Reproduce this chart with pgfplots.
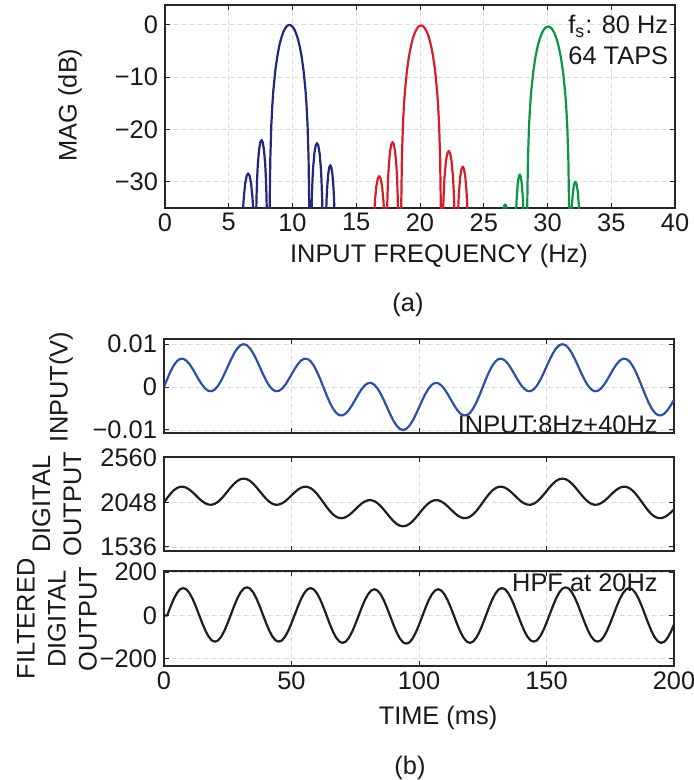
\documentclass[border=0pt]{standalone}
\usepackage{pgfplots}
\pgfplotsset{compat=1.18}
\usepackage{pgfplotstable}
\usepackage{fontspec}
\setmainfont{Liberation Sans}

\definecolor{cblue}{RGB}{35,40,125}
\definecolor{cred}{RGB}{215,30,40}
\definecolor{cgreen}{RGB}{10,150,70}
\definecolor{cin}{RGB}{45,80,165}
\definecolor{cblk}{RGB}{30,30,30}
\definecolor{txt}{RGB}{25,25,25}

\pgfplotstableread{
t vin dout fout
0 0 2048 0
1.25 0.00186 2099 0
2.5 0.00357 2146 38.9
3.75 0.00498 2185 74.1
5 0.00600 2212 102.0
6.25 0.00655 2227 120.1
7.5 0.00660 2229 126.5
8.75 0.00617 2217 120.7
10 0.00535 2195 103.2
11.25 0.00422 2164 75.9
12.5 0.00294 2129 41.3
13.75 0.00164 2093 2.9
15 0.00048 2061 -35.4
16.25 -0.00040 2037 -70.1
17.5 -0.00090 2023 -97.5
18.75 -0.00096 2022 -115.0
20 -0.00053 2033 -121.0
21.25 0.00034 2057 -114.7
22.5 0.00159 2091 -96.7
23.75 0.00310 2133 -69.0
25 0.00476 2178 -34.0
26.25 0.00639 2223 4.8
27.5 0.00785 2263 43.4
28.75 0.00901 2295 78.4
30 0.00975 2315 106.1
31.25 0.01000 2322 123.9
32.5 0.00975 2315 130.0
33.75 0.00901 2295 123.9
35 0.00785 2263 106.1
36.25 0.00639 2223 78.4
37.5 0.00476 2178 43.4
38.75 0.00310 2133 4.8
40 0.00159 2091 -34.0
41.25 0.00034 2057 -69.0
42.5 -0.00053 2033 -96.7
43.75 -0.00096 2022 -114.7
45 -0.00090 2023 -121.0
46.25 -0.00040 2037 -115.0
47.5 0.00048 2061 -97.5
48.75 0.00164 2093 -70.1
50 0.00294 2129 -35.4
51.25 0.00422 2164 2.9
52.5 0.00535 2195 41.3
53.75 0.00617 2217 75.9
55 0.00660 2229 103.2
56.25 0.00655 2227 120.7
57.5 0.00600 2212 126.5
58.75 0.00498 2185 120.1
60 0.00357 2146 102.0
61.25 0.00186 2099 74.1
62.5 0 2048 38.9
63.75 -0.00186 1997 0
65 -0.00357 1950 -38.9
66.25 -0.00498 1911 -74.1
67.5 -0.00600 1884 -102.0
68.75 -0.00655 1869 -120.1
70 -0.00660 1867 -126.5
71.25 -0.00617 1879 -120.7
72.5 -0.00535 1901 -103.2
73.75 -0.00422 1932 -75.9
75 -0.00294 1967 -41.3
76.25 -0.00164 2003 -2.9
77.5 -0.00048 2035 35.4
78.75 0.00040 2059 70.1
80 0.00090 2073 97.5
81.25 0.00096 2074 115.0
82.5 0.00053 2063 121.0
83.75 -0.00034 2039 114.7
85 -0.00159 2005 96.7
86.25 -0.00310 1963 69.0
87.5 -0.00476 1918 34.0
88.75 -0.00639 1873 -4.8
90 -0.00785 1833 -43.4
91.25 -0.00901 1801 -78.4
92.5 -0.00975 1781 -106.1
93.75 -0.01000 1774 -123.9
95 -0.00975 1781 -130.0
96.25 -0.00901 1801 -123.9
97.5 -0.00785 1833 -106.1
98.75 -0.00639 1873 -78.4
100 -0.00476 1918 -43.4
101.25 -0.00310 1963 -4.8
102.5 -0.00159 2005 34.0
103.75 -0.00034 2039 69.0
105 0.00053 2063 96.7
106.25 0.00096 2074 114.7
107.5 0.00090 2073 121.0
108.75 0.00040 2059 115.0
110 -0.00048 2035 97.5
111.25 -0.00164 2003 70.1
112.5 -0.00294 1967 35.4
113.75 -0.00422 1932 -2.9
115 -0.00535 1901 -41.3
116.25 -0.00617 1879 -75.9
117.5 -0.00660 1867 -103.2
118.75 -0.00655 1869 -120.7
120 -0.00600 1884 -126.5
121.25 -0.00498 1911 -120.1
122.5 -0.00357 1950 -102.0
123.75 -0.00186 1997 -74.1
125 0 2048 -38.9
126.25 0.00186 2099 0
127.5 0.00357 2146 38.9
128.75 0.00498 2185 74.1
130 0.00600 2212 102.0
131.25 0.00655 2227 120.1
132.5 0.00660 2229 126.5
133.75 0.00617 2217 120.7
135 0.00535 2195 103.2
136.25 0.00422 2164 75.9
137.5 0.00294 2129 41.3
138.75 0.00164 2093 2.9
140 0.00048 2061 -35.4
141.25 -0.00040 2037 -70.1
142.5 -0.00090 2023 -97.5
143.75 -0.00096 2022 -115.0
145 -0.00053 2033 -121.0
146.25 0.00034 2057 -114.7
147.5 0.00159 2091 -96.7
148.75 0.00310 2133 -69.0
150 0.00476 2178 -34.0
151.25 0.00639 2223 4.8
152.5 0.00785 2263 43.4
153.75 0.00901 2295 78.4
155 0.00975 2315 106.1
156.25 0.01000 2322 123.9
157.5 0.00975 2315 130.0
158.75 0.00901 2295 123.9
160 0.00785 2263 106.1
161.25 0.00639 2223 78.4
162.5 0.00476 2178 43.4
163.75 0.00310 2133 4.8
165 0.00159 2091 -34.0
166.25 0.00034 2057 -69.0
167.5 -0.00053 2033 -96.7
168.75 -0.00096 2022 -114.7
170 -0.00090 2023 -121.0
171.25 -0.00040 2037 -115.0
172.5 0.00048 2061 -97.5
173.75 0.00164 2093 -70.1
175 0.00294 2129 -35.4
176.25 0.00422 2164 2.9
177.5 0.00535 2195 41.3
178.75 0.00617 2217 75.9
180 0.00660 2229 103.2
181.25 0.00655 2227 120.7
182.5 0.00600 2212 126.5
183.75 0.00498 2185 120.1
185 0.00357 2146 102.0
186.25 0.00186 2099 74.1
187.5 0 2048 38.9
188.75 -0.00186 1997 0
190 -0.00357 1950 -38.9
191.25 -0.00498 1911 -74.1
192.5 -0.00600 1884 -102.0
193.75 -0.00655 1869 -120.1
195 -0.00660 1867 -126.5
196.25 -0.00617 1879 -120.7
197.5 -0.00535 1901 -103.2
198.75 -0.00422 1932 -75.9
200 -0.00294 1967 -41.3
}\timedata

\pgfplotsset{
  mat/.style={
    scale only axis, width=255pt,
    axis line style={line width=0.65pt, black!85},
    every tick/.style={black!85, line width=0.5pt},
    major tick length=2.6pt,
    tick align=inside,
    xtick pos=both, ytick pos=both,
    xticklabel pos=left, yticklabel pos=left,
    scaled x ticks=false, scaled y ticks=false,
    grid=major,
    major grid style={dash pattern=on 2.5pt off 1.5pt, gray!28, line width=0.4pt},
    ticklabel style={font=\fontsize{12.7}{14}\selectfont, text=txt},
    every axis plot/.append style={line join=round},
  }
}

\begin{document}
\begin{tikzpicture}
\def\lab{\fontsize{12.7}{15.5}\selectfont}

% (a) frequency response
\begin{axis}[mat, at={(0pt,0pt)}, anchor=north west, height=101.5pt,
  xmin=0, xmax=40, ymin=-35, ymax=3.8,
  xtick={0,5,10,15,20,25,30,35,40},
  xticklabels={0,5,10,15,20,25,30,35,40},
  ytick={-30,-20,-10,0},
  yticklabels={−30,−20,−10,0},
  xticklabel style={inner sep=2.5pt}]
\addplot[cblue, line width=1.1pt] coordinates {
(5.95,-60)(6.018,-42.9)(6.064,-38.6)(6.121,-35.26)(6.178,-33.02)(6.292,-30.24)(6.406,-28.84)(6.52,-28.4)(6.634,-28.84)(6.748,-30.24)(6.862,-33.02)(6.919,-35.26)(6.976,-38.6)(7.022,-42.9)(7.09,-60)
(7.148,-36.5)(7.186,-32.2)(7.234,-28.86)(7.282,-26.62)(7.378,-23.84)(7.474,-22.44)(7.57,-22.0)(7.666,-22.44)(7.762,-23.84)(7.858,-26.62)(7.906,-28.86)(7.954,-32.2)(7.992,-36.5)(8.05,-60)
(8.18,-60)(8.212,-33.8)(8.259,-25.6)(8.338,-19.23)(8.417,-15.39)(8.496,-12.62)(8.654,-8.69)(8.812,-5.94)(8.97,-3.92)(9.128,-2.42)(9.286,-1.33)(9.444,-0.58)(9.602,-0.14)(9.76,0)(9.918,-0.14)(10.076,-0.58)(10.234,-1.33)(10.392,-2.42)(10.55,-3.92)(10.708,-5.94)(10.866,-8.69)(11.024,-12.62)(11.103,-15.39)(11.182,-19.23)(11.261,-25.6)(11.308,-33.8)(11.34,-60)
(11.42,-60)(11.48,-37.1)(11.52,-32.8)(11.57,-29.46)(11.62,-27.22)(11.72,-24.44)(11.82,-23.04)(11.92,-22.6)(12.02,-23.04)(12.12,-24.44)(12.22,-27.22)(12.27,-29.46)(12.32,-32.8)(12.36,-37.1)(12.42,-60)
(12.54,-60)(12.591,-41.3)(12.625,-37.0)(12.668,-33.66)(12.71,-31.42)(12.795,-28.64)(12.88,-27.24)(12.965,-26.8)(13.05,-27.24)(13.135,-28.64)(13.22,-31.42)(13.263,-33.66)(13.305,-37.0)(13.339,-41.3)(13.39,-60)
};
\addplot[cred, line width=1.1pt] coordinates {
(16.25,-60)(16.316,-43.4)(16.36,-39.1)(16.415,-35.76)(16.47,-33.52)(16.58,-30.74)(16.69,-29.34)(16.80,-28.9)(16.91,-29.34)(17.02,-30.74)(17.13,-33.52)(17.185,-35.76)(17.24,-39.1)(17.284,-43.4)(17.35,-60)
(17.41,-36.9)(17.45,-32.6)(17.50,-29.26)(17.55,-27.02)(17.65,-24.24)(17.75,-22.84)(17.85,-22.4)(17.95,-22.84)(18.05,-24.24)(18.15,-27.02)(18.20,-29.26)(18.25,-32.6)(18.29,-36.9)(18.35,-60)
(18.50,-60)(18.532,-33.9)(18.579,-25.7)(18.658,-19.33)(18.737,-15.49)(18.816,-12.72)(18.974,-8.79)(19.132,-6.04)(19.29,-4.02)(19.448,-2.52)(19.606,-1.43)(19.764,-0.68)(19.922,-0.24)(20.08,-0.1)(20.238,-0.24)(20.396,-0.68)(20.554,-1.43)(20.712,-2.52)(20.87,-4.02)(21.028,-6.04)(21.186,-8.79)(21.344,-12.72)(21.423,-15.49)(21.502,-19.33)(21.581,-25.7)(21.628,-33.9)(21.66,-60)
(21.72,-60)(21.784,-38.6)(21.827,-34.3)(21.881,-30.96)(21.934,-28.72)(22.041,-25.94)(22.148,-24.54)(22.255,-24.1)(22.362,-24.54)(22.469,-25.94)(22.576,-28.72)(22.63,-30.96)(22.683,-34.3)(22.726,-38.6)(22.79,-60)
(22.87,-60)(22.928,-41.6)(22.967,-37.3)(23.016,-33.96)(23.064,-31.72)(23.161,-28.94)(23.258,-27.54)(23.355,-27.1)(23.452,-27.54)(23.549,-28.94)(23.646,-31.72)(23.695,-33.96)(23.743,-37.3)(23.782,-41.6)(23.84,-60)
};
\addplot[cgreen, line width=1.1pt] coordinates {
(26.22,-60)(26.493,-36.14)(26.539,-35.3)(26.584,-34.74)(26.63,-34.41)(26.675,-34.3)(26.721,-34.41)(26.766,-34.74)(26.812,-35.3)(26.857,-36.14)(27.13,-60)
(27.42,-60)(27.469,-43.1)(27.501,-38.8)(27.542,-35.46)(27.582,-33.22)(27.663,-30.44)(27.744,-29.04)(27.825,-28.6)(27.906,-29.04)(27.987,-30.44)(28.068,-33.22)(28.109,-35.46)(28.149,-38.8)(28.181,-43.1)(28.23,-60)
(28.38,-60)(28.413,-34.1)(28.464,-25.9)(28.547,-19.53)(28.631,-15.69)(28.714,-12.92)(28.881,-8.99)(29.048,-6.24)(29.215,-4.22)(29.382,-2.72)(29.549,-1.63)(29.716,-0.88)(29.883,-0.44)(30.05,-0.3)(30.217,-0.44)(30.384,-0.88)(30.551,-1.63)(30.718,-2.72)(30.885,-4.22)(31.052,-6.24)(31.219,-8.99)(31.386,-12.92)(31.469,-15.69)(31.553,-19.53)(31.636,-25.9)(31.687,-34.1)(31.72,-60)
(31.776,-44.5)(31.813,-40.2)(31.86,-36.86)(31.906,-34.62)(31.999,-31.84)(32.092,-30.44)(32.185,-30.0)(32.278,-30.44)(32.371,-31.84)(32.464,-34.62)(32.511,-36.86)(32.557,-40.2)(32.594,-44.5)(32.65,-60)
};
\end{axis}

% input
\begin{axis}[mat, at={(-0.5pt,-167pt)}, anchor=north west, height=47pt,
  xmin=0, xmax=200, ymin=-0.0107, ymax=0.0112,
  xtick={0,50,100,150,200}, xticklabels={},
  ytick={-0.01,0,0.01}, yticklabels={−0.01,0,0.01}]
\addplot[cin, line width=1.1pt] table[x=t, y=vin] {\timedata};
\end{axis}

% digital output
\begin{axis}[mat, at={(-0.5pt,-226pt)}, anchor=north west, height=47pt,
  xmin=0, xmax=200, ymin=1490, ymax=2570,
  xtick={0,50,100,150,200}, xticklabels={},
  ytick={1536,2048,2560}, yticklabels={1536,2048,2560}]
\addplot[cblk, line width=1.1pt] table[x=t, y=dout] {\timedata};
\end{axis}

% filtered digital output
\begin{axis}[mat, at={(-0.5pt,-283pt)}, anchor=north west, height=47.5pt,
  xmin=0, xmax=200, ymin=-233, ymax=205,
  xtick={0,50,100,150,200}, xticklabels={0,50,100,150,200},
  ytick={-200,0,200}, yticklabels={−200,0,200},
  xticklabel style={inner sep=2.5pt}]
\addplot[cblk, line width=1.1pt] table[x=t, y=fout] {\timedata};
\end{axis}

% texts
\node[rotate=90, font=\lab, text=txt] at (-47.5pt,-50pt) {MAG (dB)};
\node[font=\lab, text=txt] at (137pt,-125.5pt) {INPUT FREQUENCY (Hz)};
\node[font=\lab, text=txt] at (121.5pt,-150pt) {(a)};
\node[font=\lab, text=txt, anchor=north west, inner sep=0pt, align=left] at (201.5pt,-5pt) {f\textsubscript{s}: 80 Hz\\64 TAPS};
\node[rotate=90, font=\lab, text=txt] at (-52pt,-191pt) {INPUT(V)};
\node[rotate=90, font=\lab, text=txt, align=center] at (-54pt,-249.5pt) {DIGITAL\\OUTPUT};
\node[rotate=90, font=\lab, text=txt, align=center] at (-54pt,-307pt) {FILTERED\\DIGITAL\\OUTPUT};
\node[font=\lab, text=txt, anchor=base east, inner sep=0pt] at (246.5pt,-214pt) {INPUT:8Hz+40Hz};
\node[font=\lab, text=txt, anchor=north east, inner sep=0pt] at (246.5pt,-284pt) {HPF at 20Hz};
\node[font=\lab, text=txt] at (136.5pt,-356.5pt) {TIME (ms)};
\node[font=\lab, text=txt] at (122.5pt,-381.5pt) {(b)};

\pgfresetboundingbox
\path[use as bounding box] (-82.5pt,2.5pt) rectangle (264.5pt,-387.5pt);
\end{tikzpicture}
\end{document}
